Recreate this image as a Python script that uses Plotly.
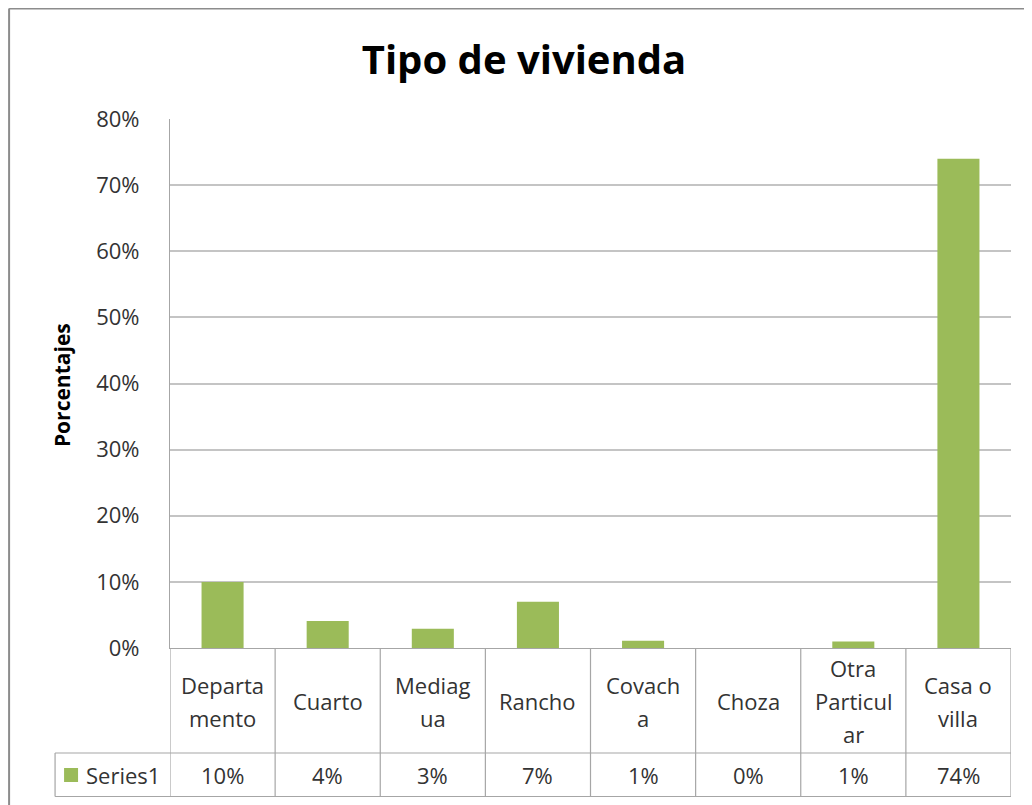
import plotly.graph_objects as go

categories = ["Departamento", "Cuarto", "Mediagua", "Rancho", "Covacha", "Choza", "Otra Particular", "Casa o villa"]
table_labels = [["Departa", "mento"], ["Cuarto"], ["Mediag", "ua"], ["Rancho"],
                ["Covach", "a"], ["Choza"], ["Otra", "Particul", "ar"], ["Casa o", "villa"]]
values = [10, 4.1, 2.9, 7, 1.1, 0, 1, 74]
value_labels = ["10%", "4%", "3%", "7%", "1%", "0%", "1%", "74%"]
series_name = "Series1"
y_ticks = [0, 10, 20, 30, 40, 50, 60, 70, 80]
y_tick_text = ["0%", "10%", "20%", "30%", "40%", "50%", "60%", "70%", "80%"]

OFF = 8  # browser body margin
W, H = 1032 - OFF, 805 - OFF
PLOT_L, PLOT_R, PLOT_T, PLOT_B = 170, 1011.5, 119, 648  # page pixels
L = PLOT_L - OFF
T = PLOT_T - OFF
R = W - (PLOT_R - OFF)
B = H - (PLOT_B - OFF)
PW = W - L - R
PH = H - T - B
FONT = "Open Sans"
FS = 22
GREEN = "#9BBB59"
LINE = "#a6a6a6"
TXT = "#333333"


def px(x):
    return (x - PLOT_L) / PW


def py(y):
    return (PLOT_B - y) / PH


xs = list(range(len(categories)))

fig = go.Figure()
fig.add_trace(go.Bar(x=xs, y=values, width=0.4, marker=dict(color=GREEN, line=dict(width=0)),
                     name=series_name, hovertext=categories, showlegend=False))

shapes = []
# outer chart border (left and top edges visible)
BORDER = dict(color="#8c8c8c", width=2)
shapes.append(dict(type="line", xref="paper", yref="paper", x0=px(9), x1=px(9), y0=py(8.5), y1=py(805),
                   line=BORDER, layer="below"))
shapes.append(dict(type="line", xref="paper", yref="paper", x0=px(9), x1=px(1032), y0=py(8.5), y1=py(8.5),
                   line=BORDER, layer="below"))
# table lines
TB = 796.5
for yy in (753, TB):
    shapes.append(dict(type="line", xref="paper", yref="paper", x0=px(55), x1=px(PLOT_R), y0=py(yy), y1=py(yy),
                       line=dict(color=LINE, width=1.2)))
shapes.append(dict(type="line", xref="paper", yref="paper", x0=px(55), x1=px(55), y0=py(753), y1=py(TB),
                   line=dict(color=LINE, width=1.2)))
for i in range(len(categories) + 1):
    shapes.append(dict(type="line", xref="x", yref="paper", x0=i - 0.5, x1=i - 0.5, y0=py(648), y1=py(TB),
                       line=dict(color=LINE, width=1.2)))
# legend key
shapes.append(dict(type="rect", xref="paper", yref="paper", x0=px(64), x1=px(78), y0=py(782), y1=py(768),
                   fillcolor=GREEN, line=dict(width=0)))

annotations = []
line_gap = 33
for i, lines in enumerate(table_labels):
    n = len(lines)
    for k, t in enumerate(lines):
        yc = 701 + (k - (n - 1) / 2) * line_gap
        annotations.append(dict(x=i, xref="x", y=py(yc), yref="paper", text=t, showarrow=False,
                                font=dict(family=FONT, size=FS, color=TXT), xanchor="center", yanchor="middle"))
    annotations.append(dict(x=i, xref="x", y=py(775), yref="paper", text=value_labels[i], showarrow=False,
                            font=dict(family=FONT, size=FS, color=TXT), xanchor="center", yanchor="middle"))
annotations.append(dict(x=px(84), xref="paper", y=py(775), yref="paper", text=series_name, showarrow=False,
                        font=dict(family=FONT, size=FS, color=TXT), xanchor="left", yanchor="middle"))
annotations.append(dict(x=px(62), xref="paper", y=py(385), yref="paper", text="<b>Porcentajes</b>", showarrow=False,
                        textangle=-90, font=dict(family=FONT, size=21, color="#000000"),
                        xanchor="center", yanchor="middle"))

fig.update_layout(
    width=W, height=H,
    margin=dict(l=L, r=R, t=T, b=B, autoexpand=False),
    paper_bgcolor="white", plot_bgcolor="white",
    title=dict(text="<b>Tipo de vivienda</b>", x=(524 - OFF) / W, xanchor="center", y=1 - (60 - OFF) / H,
               yanchor="middle", font=dict(family=FONT, size=40, color="#000000")),
    xaxis=dict(range=[-0.5, len(categories) - 0.5], showticklabels=False, showgrid=False, zeroline=False,
               showline=True, linecolor=LINE, linewidth=1.2, ticks=""),
    yaxis=dict(range=[0, 80], tickmode="array", tickvals=y_ticks, ticktext=y_tick_text, showgrid=True,
               gridcolor="#c4c4c4", gridwidth=1.5, zeroline=False, showline=True, linecolor=LINE, linewidth=1.2,
               ticks="", ticklabelstandoff=25, tickfont=dict(family=FONT, size=FS, color=TXT)),
    shapes=shapes, annotations=annotations, bargap=0.6,
)

fig.write_html("out.html",
               post_script="document.documentElement.style.overflow='hidden';document.body.style.overflow='hidden';")
